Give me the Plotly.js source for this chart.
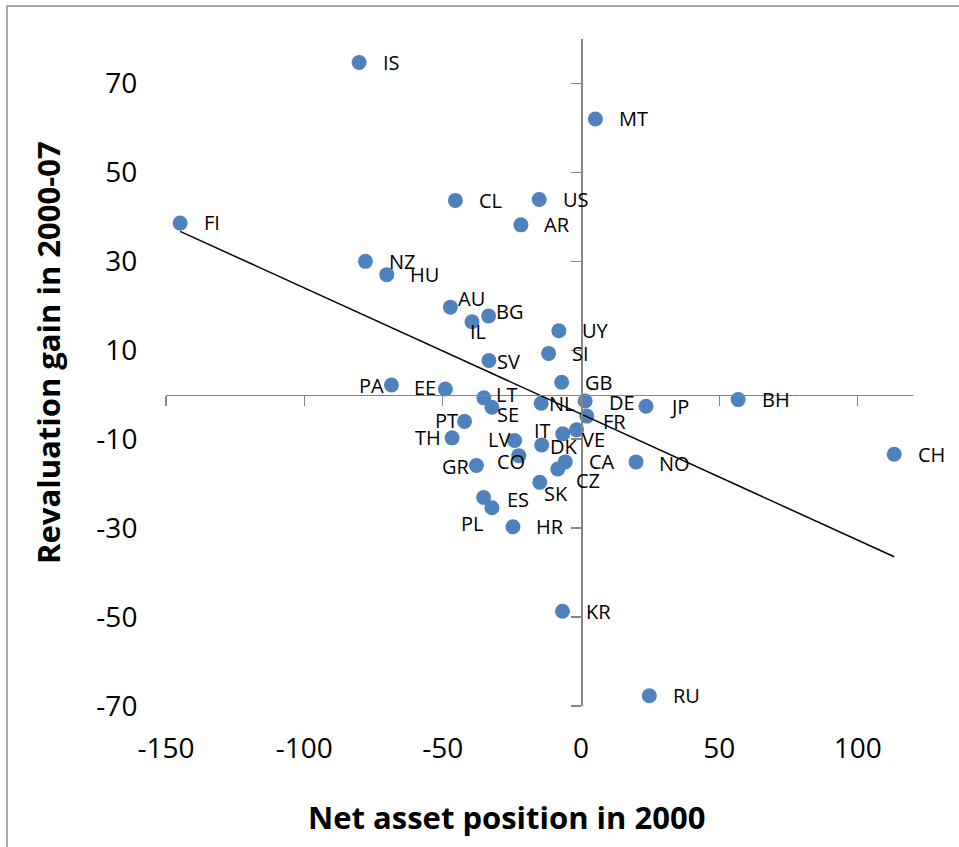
<!DOCTYPE html>
<html>
<head>
<meta charset="utf-8">
<script src="https://cdn.plot.ly/plotly-3.0.1.min.js"></script>
<style>html,body{margin:0;padding:0;background:#fff;}#chart{width:959px;height:847px;}</style>
</head>
<body>
<div id="chart"></div>
<script>
// ---- Data ----
const countries = ["IS","FI","NZ","HU","CL","MT","US","AR","AU","IL","BG","UY","SI","SV","GB","PA","EE","LT","SE","NL","DE","JP","BH","FR","VE","IT","LV","DK","CO","CH","CA","NO","CZ","SK","ES","PL","HR","TH","PT","GR","KR","RU"];
const netAssetPosition2000 = [-80.2,-144.9,-77.9,-70.2,-45.4,5.2,-15.1,-21.7,-47.2,-39.4,-33.4,-8.0,-11.7,-33.3,-7.0,-68.5,-49.0,-35.1,-32.2,-14.4,1.5,23.5,56.8,2.1,-1.6,-6.6,-24.0,-14.2,-22.5,113.2,-5.7,19.9,-8.4,-14.9,-35.2,-32.2,-24.6,-46.6,-42.1,-37.8,-6.7,24.7];
const revaluationGain = [74.7,38.6,30.0,27.0,43.7,62.0,43.9,38.2,19.7,16.4,17.7,14.4,9.3,7.7,2.8,2.2,1.3,-0.7,-2.8,-1.9,-1.4,-2.6,-1.1,-4.8,-7.9,-8.8,-10.3,-11.3,-13.7,-13.4,-15.1,-15.1,-16.7,-19.7,-23.1,-25.4,-29.7,-9.7,-6.0,-15.9,-48.7,-67.7];
const xTickValues = [-150,-100,-50,0,50,100];
const xTickLabels = ["-150","-100","-50","0","50","100"];
const yTickValues = [70,50,30,10,-10,-30,-50,-70];
const yTickLabels = ["70","50","30","10","-10","-30","-50","-70"];
const xTitle = "Net asset position in 2000";
const yTitle = "Revaluation gain in 2000-07";

// ---- Label placement (style: anchor side, pixel offsets) ----
const labelPlacement = {
  AU:['left',7.6,-8.4], BG:['left',7,-4], IL:['left',-2.3,10], SV:['left',8,1.3],
  PA:['right',-7.7,1], EE:['right',-9,-0.8], LT:['left',11.7,-3], SE:['left',5,7.6],
  NL:['left',8.3,1.5], DE:['left',23.6,2], FR:['left',16,6.5], VE:['left',5.7,10],
  IT:['right',-11.6,-3], LV:['right',-5,-0.5], DK:['left',8.4,2.5], CO:['left',-22,7],
  CZ:['left',18.4,12.6], SK:['left',4.7,11.8], ES:['left',23.3,2.7], PL:['right',-9,16.5],
  TH:['right',-11.3,0.7], PT:['right',-6.7,-0.5], GR:['right',-6,1.7], NO:['left',23.3,2.6]
};
const defaultPlacement = ['left',23.5,0.5];

// ---- Linear trend (OLS), as Excel's trendline ----
const n = netAssetPosition2000.length;
const mx = netAssetPosition2000.reduce((a,b)=>a+b,0)/n;
const my = revaluationGain.reduce((a,b)=>a+b,0)/n;
let sxy=0, sxx=0;
for (let i=0;i<n;i++){ sxy+=(netAssetPosition2000[i]-mx)*(revaluationGain[i]-my); sxx+=(netAssetPosition2000[i]-mx)**2; }
const slope = sxy/sxx, intercept = my - slope*mx;
const xmin = Math.min(...netAssetPosition2000), xmax = Math.max(...netAssetPosition2000);
const trendX = [xmin, xmax];
const trendY = trendX.map(v => intercept + slope*v);

const FONT = "'Open Sans', 'Noto Sans', sans-serif";
const AXIS_GRAY = '#868686';
const XR = [-150,120], YR = [-70,80];

const points = {
  type:'scatter', mode:'markers', x:netAssetPosition2000, y:revaluationGain,
  marker:{size:15, color:'#4F81BD', line:{width:0}}, cliponaxis:false, hoverinfo:'skip'
};
const trend = {
  type:'scatter', mode:'lines', x:trendX, y:trendY, xaxis:'x2', yaxis:'y2',
  line:{color:'#000000', width:1.5}, hoverinfo:'skip'
};

const annotations = countries.map((c,i) => {
  const p = labelPlacement[c] || defaultPlacement;
  const side = p[0];
  const xshift = side==='left' ? p[1]-2 : (side==='right' ? p[1]+2 : p[1]);
  return {
    x: netAssetPosition2000[i], y: revaluationGain[i], xref:'x', yref:'y',
    text: c, showarrow:false, xanchor: side, yanchor:'middle',
    xshift: xshift, yshift: -p[2]+0.7,
    font:{family:FONT, size:20, color:'#000'}
  };
});
annotations.push({
  xref:'paper', yref:'paper', x:0.4559, y:-0.1658, xanchor:'center', yanchor:'middle',
  text:'<b>'+xTitle+'</b>', showarrow:false, font:{family:FONT, size:31, color:'#000'}
});
annotations.push({
  xref:'paper', yref:'paper', x:-0.1574, y:0.530, xanchor:'center', yanchor:'middle',
  text:'<b>'+yTitle+'</b>', textangle:-90, showarrow:false, font:{family:FONT, size:31, color:'#000'}
});

const layout = {
  width:959, height:847, autosize:false,
  margin:{l:166, r:46, t:39, b:141, pad:0},
  paper_bgcolor:'#fff', plot_bgcolor:'#fff',
  showlegend:false, hovermode:false,
  xaxis:{range:XR, showline:false, zeroline:false, showgrid:false,
    tickmode:'array', tickvals:xTickValues, ticktext:xTickLabels,
    ticks:'outside', ticklen:17, tickcolor:'rgba(0,0,0,0)',
    tickfont:{family:FONT, size:28, color:'#000'}, fixedrange:true},
  yaxis:{range:YR, showline:false, zeroline:false, showgrid:false,
    tickmode:'array', tickvals:yTickValues, ticktext:yTickLabels,
    ticks:'outside', ticklen:22, tickcolor:'rgba(0,0,0,0)',
    tickfont:{family:FONT, size:28, color:'#000'}, fixedrange:true},
  xaxis2:{range:XR, overlaying:'x', anchor:'free', position:(0-YR[0])/(YR[1]-YR[0]), side:'bottom',
    showline:true, linecolor:AXIS_GRAY, linewidth:1.5, zeroline:false, showgrid:false,
    tickmode:'array', tickvals:xTickValues, ticks:'outside', ticklen:10, tickwidth:1.5, tickcolor:AXIS_GRAY,
    showticklabels:false, fixedrange:true},
  yaxis2:{range:YR, overlaying:'y', anchor:'free', position:(0-XR[0])/(XR[1]-XR[0]), side:'left',
    showline:true, linecolor:AXIS_GRAY, linewidth:1.5, zeroline:false, showgrid:false,
    tickmode:'array', tickvals:yTickValues, ticks:'outside', ticklen:10, tickwidth:1.5, tickcolor:AXIS_GRAY,
    showticklabels:false, fixedrange:true},
  annotations: annotations,
  shapes:[{type:'rect', xref:'paper', yref:'paper', x0:-0.2129, x1:1.3, y0:-0.4, y1:1.0495,
    line:{color:'#8c8c8c', width:1.5}, fillcolor:'rgba(0,0,0,0)', layer:'below'}]
};

Plotly.newPlot('chart', [trend, points], layout, {staticPlot:true, displayModeBar:false});
</script>
</body>
</html>
